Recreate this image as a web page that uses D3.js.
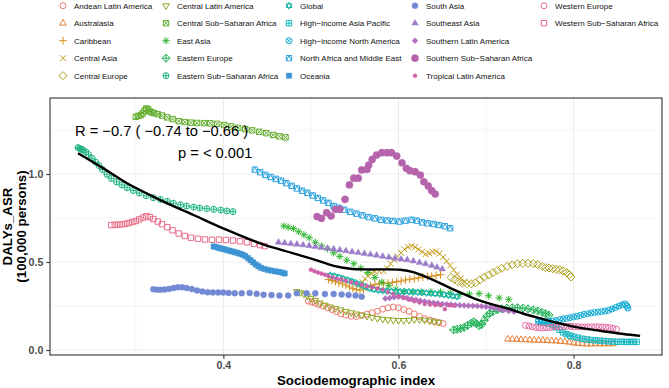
<!DOCTYPE html>
<html>
<head>
<meta charset="utf-8">
<script src="https://cdn.jsdelivr.net/npm/d3@7"></script>
<style>
body { margin: 0; background: #fff; }
svg { display: block; font-family: "Liberation Sans", Arial, sans-serif; }
</style>
</head>
<body>
<div id="chart"></div>
<script>
// [sdi, DALYs ASR] per region
const andeanLatinAmerica = [[0.497,0.278],[0.501,0.272],[0.505,0.266],[0.509,0.258],[0.514,0.250],[0.519,0.240],[0.524,0.230],[0.529,0.218],[0.534,0.206],[0.540,0.198],[0.546,0.192],[0.552,0.190],[0.558,0.196],[0.564,0.204],[0.570,0.212],[0.576,0.220],[0.582,0.232],[0.588,0.240],[0.594,0.244],[0.600,0.240],[0.606,0.230],[0.612,0.220],[0.618,0.205],[0.624,0.190],[0.630,0.178],[0.636,0.170],[0.641,0.163],[0.646,0.156],[0.651,0.150]];
const australasia = [[0.725,0.062],[0.730,0.061],[0.735,0.060],[0.740,0.059],[0.745,0.058],[0.750,0.057],[0.755,0.056],[0.760,0.055],[0.765,0.054],[0.770,0.053],[0.775,0.052],[0.780,0.051],[0.785,0.049],[0.790,0.047],[0.795,0.044],[0.800,0.040],[0.805,0.037],[0.810,0.035],[0.815,0.034],[0.820,0.034],[0.825,0.035],[0.830,0.035],[0.835,0.035],[0.840,0.035],[0.845,0.035]];
const caribbean = [[0.520,0.400],[0.524,0.395],[0.528,0.388],[0.532,0.382],[0.536,0.376],[0.540,0.368],[0.544,0.358],[0.548,0.350],[0.552,0.343],[0.556,0.340],[0.560,0.346],[0.564,0.356],[0.568,0.365],[0.573,0.372],[0.578,0.376],[0.583,0.378],[0.588,0.380],[0.593,0.384],[0.598,0.388],[0.603,0.392],[0.608,0.398],[0.613,0.402],[0.618,0.405],[0.623,0.410],[0.628,0.414],[0.633,0.417],[0.638,0.420],[0.643,0.424],[0.648,0.428]];
const centralAsia = [[0.556,0.372],[0.559,0.385],[0.562,0.405],[0.565,0.420],[0.569,0.435],[0.573,0.445],[0.578,0.447],[0.583,0.448],[0.587,0.465],[0.591,0.490],[0.595,0.512],[0.599,0.532],[0.603,0.552],[0.607,0.572],[0.611,0.585],[0.615,0.590],[0.619,0.585],[0.623,0.572],[0.627,0.558],[0.631,0.545],[0.635,0.550],[0.639,0.558],[0.643,0.560],[0.647,0.548],[0.651,0.528],[0.655,0.505],[0.659,0.480],[0.663,0.455],[0.667,0.430],[0.671,0.408],[0.675,0.388]];
const centralEurope = [[0.660,0.412],[0.664,0.400],[0.668,0.388],[0.673,0.380],[0.678,0.377],[0.683,0.376],[0.688,0.382],[0.693,0.398],[0.698,0.414],[0.703,0.426],[0.708,0.440],[0.713,0.452],[0.718,0.464],[0.724,0.475],[0.730,0.484],[0.736,0.490],[0.742,0.492],[0.748,0.493],[0.754,0.491],[0.759,0.485],[0.764,0.475],[0.768,0.468],[0.772,0.466],[0.776,0.462],[0.780,0.458],[0.784,0.455],[0.788,0.450],[0.792,0.440],[0.795,0.428],[0.797,0.415]];
const centralLatinAmerica = [[0.484,0.332],[0.488,0.326],[0.492,0.318],[0.496,0.306],[0.500,0.294],[0.505,0.282],[0.510,0.268],[0.516,0.255],[0.522,0.245],[0.528,0.236],[0.534,0.228],[0.540,0.220],[0.546,0.212],[0.552,0.205],[0.558,0.198],[0.564,0.192],[0.570,0.186],[0.576,0.180],[0.582,0.175],[0.588,0.172],[0.594,0.170],[0.600,0.168],[0.606,0.168],[0.612,0.170],[0.618,0.173],[0.624,0.172],[0.630,0.170],[0.636,0.165],[0.641,0.160],[0.646,0.158]];
const centralSubSaharanAfrica = [[0.300,1.325],[0.303,1.330],[0.306,1.335],[0.308,1.345],[0.310,1.360],[0.312,1.372],[0.314,1.368],[0.316,1.355],[0.318,1.350],[0.321,1.345],[0.325,1.340],[0.330,1.332],[0.336,1.322],[0.342,1.312],[0.349,1.300],[0.356,1.295],[0.363,1.292],[0.370,1.290],[0.378,1.289],[0.385,1.288],[0.393,1.285],[0.401,1.278],[0.409,1.270],[0.417,1.262],[0.425,1.255],[0.433,1.248],[0.441,1.240],[0.449,1.232],[0.457,1.222],[0.464,1.214],[0.471,1.208]];
const eastAsia = [[0.469,0.705],[0.474,0.698],[0.480,0.690],[0.486,0.672],[0.492,0.655],[0.498,0.638],[0.505,0.612],[0.512,0.592],[0.519,0.575],[0.526,0.552],[0.533,0.532],[0.541,0.510],[0.549,0.490],[0.557,0.465],[0.565,0.440],[0.573,0.412],[0.581,0.385],[0.589,0.365],[0.597,0.345],[0.606,0.333],[0.616,0.330],[0.626,0.330],[0.637,0.331],[0.648,0.330],[0.659,0.323],[0.670,0.316],[0.681,0.318],[0.692,0.320],[0.703,0.308],[0.715,0.296],[0.726,0.288]];
const easternEurope = [[0.663,0.114],[0.667,0.118],[0.671,0.122],[0.675,0.128],[0.679,0.140],[0.683,0.152],[0.686,0.160],[0.689,0.150],[0.692,0.138],[0.695,0.145],[0.698,0.168],[0.701,0.192],[0.704,0.208],[0.708,0.218],[0.713,0.228],[0.718,0.234],[0.724,0.238],[0.730,0.240],[0.736,0.240],[0.742,0.238],[0.748,0.234],[0.754,0.228],[0.759,0.222],[0.764,0.214],[0.768,0.206],[0.772,0.198]];
const easternSubSaharanAfrica = [[0.234,1.150],[0.236,1.145],[0.238,1.140],[0.240,1.135],[0.243,1.125],[0.246,1.110],[0.250,1.090],[0.254,1.068],[0.258,1.048],[0.262,1.025],[0.267,0.998],[0.272,0.975],[0.278,0.955],[0.284,0.938],[0.290,0.922],[0.297,0.906],[0.304,0.892],[0.312,0.876],[0.320,0.865],[0.328,0.856],[0.336,0.845],[0.343,0.834],[0.351,0.825],[0.358,0.818],[0.366,0.812],[0.373,0.807],[0.381,0.803],[0.389,0.799],[0.397,0.795],[0.404,0.790],[0.411,0.786]];
const global = [[0.522,0.425],[0.527,0.420],[0.532,0.413],[0.537,0.405],[0.542,0.398],[0.547,0.390],[0.552,0.380],[0.557,0.370],[0.562,0.360],[0.567,0.350],[0.572,0.344],[0.577,0.340],[0.582,0.337],[0.587,0.335],[0.592,0.333],[0.597,0.332],[0.602,0.331],[0.607,0.331],[0.612,0.331],[0.617,0.330],[0.622,0.328],[0.627,0.326],[0.632,0.324],[0.637,0.322],[0.642,0.320],[0.647,0.318],[0.652,0.315],[0.657,0.311],[0.662,0.307],[0.667,0.303]];
const highIncomeAsiaPacific = [[0.760,0.160],[0.764,0.158],[0.768,0.155],[0.772,0.150],[0.776,0.142],[0.780,0.130],[0.784,0.115],[0.788,0.100],[0.792,0.090],[0.796,0.082],[0.800,0.076],[0.805,0.070],[0.810,0.064],[0.815,0.060],[0.820,0.057],[0.825,0.055],[0.830,0.053],[0.835,0.051],[0.840,0.049],[0.845,0.048],[0.850,0.047],[0.855,0.047],[0.860,0.046],[0.864,0.046],[0.868,0.046],[0.872,0.046]];
const highIncomeNorthAmerica = [[0.760,0.168],[0.764,0.165],[0.768,0.163],[0.772,0.163],[0.776,0.165],[0.780,0.168],[0.784,0.172],[0.788,0.176],[0.792,0.180],[0.796,0.184],[0.800,0.188],[0.804,0.192],[0.808,0.197],[0.812,0.202],[0.816,0.206],[0.820,0.210],[0.824,0.213],[0.828,0.216],[0.832,0.218],[0.836,0.221],[0.840,0.226],[0.844,0.233],[0.848,0.242],[0.852,0.250],[0.856,0.258],[0.859,0.262],[0.861,0.250],[0.862,0.238]];
const northAfricaMiddleEast = [[0.436,1.025],[0.442,1.010],[0.448,0.995],[0.454,0.983],[0.460,0.972],[0.466,0.962],[0.472,0.948],[0.478,0.933],[0.484,0.918],[0.490,0.905],[0.496,0.893],[0.502,0.878],[0.508,0.864],[0.514,0.850],[0.520,0.836],[0.526,0.818],[0.532,0.808],[0.538,0.797],[0.545,0.785],[0.552,0.775],[0.559,0.765],[0.566,0.755],[0.573,0.748],[0.580,0.740],[0.587,0.736],[0.594,0.733],[0.601,0.730],[0.608,0.735],[0.615,0.740],[0.621,0.735],[0.627,0.725],[0.633,0.720],[0.640,0.716],[0.646,0.710],[0.653,0.703],[0.659,0.692]];
const oceania = [[0.389,0.588],[0.392,0.585],[0.395,0.580],[0.398,0.576],[0.401,0.572],[0.404,0.568],[0.407,0.564],[0.410,0.560],[0.413,0.556],[0.416,0.552],[0.419,0.547],[0.422,0.542],[0.425,0.534],[0.428,0.523],[0.431,0.510],[0.434,0.498],[0.437,0.486],[0.440,0.476],[0.443,0.467],[0.447,0.460],[0.451,0.455],[0.455,0.451],[0.459,0.447],[0.463,0.444],[0.467,0.440],[0.470,0.435]];
const southAsia = [[0.320,0.345],[0.324,0.343],[0.328,0.342],[0.333,0.344],[0.338,0.347],[0.343,0.352],[0.348,0.357],[0.353,0.356],[0.358,0.352],[0.364,0.346],[0.370,0.338],[0.376,0.332],[0.382,0.328],[0.388,0.327],[0.394,0.327],[0.400,0.326],[0.406,0.324],[0.413,0.323],[0.421,0.322],[0.430,0.324],[0.438,0.319],[0.446,0.314],[0.455,0.312],[0.464,0.309],[0.474,0.309],[0.484,0.322],[0.495,0.322],[0.505,0.322],[0.516,0.318],[0.526,0.318],[0.535,0.316],[0.543,0.313],[0.551,0.309],[0.558,0.303]];
const southeastAsia = [[0.463,0.612],[0.470,0.608],[0.477,0.604],[0.484,0.601],[0.491,0.597],[0.498,0.592],[0.505,0.587],[0.512,0.582],[0.519,0.578],[0.526,0.573],[0.533,0.568],[0.540,0.563],[0.547,0.558],[0.554,0.553],[0.561,0.548],[0.568,0.543],[0.575,0.538],[0.582,0.532],[0.589,0.527],[0.596,0.521],[0.603,0.516],[0.610,0.512],[0.617,0.505],[0.624,0.497],[0.631,0.489],[0.638,0.480],[0.644,0.470],[0.650,0.460]];
const southernLatinAmerica = [[0.585,0.292],[0.590,0.296],[0.595,0.300],[0.600,0.302],[0.605,0.300],[0.610,0.296],[0.615,0.290],[0.620,0.285],[0.625,0.280],[0.630,0.276],[0.635,0.272],[0.640,0.268],[0.645,0.265],[0.650,0.262],[0.655,0.260],[0.660,0.258],[0.665,0.256],[0.670,0.254],[0.675,0.253],[0.680,0.252],[0.685,0.251],[0.690,0.250],[0.695,0.248],[0.700,0.246],[0.705,0.243],[0.710,0.238],[0.715,0.232],[0.720,0.226],[0.726,0.221],[0.732,0.218]];
const southernSubSaharanAfrica = [[0.507,0.758],[0.512,0.748],[0.518,0.780],[0.523,0.761],[0.528,0.799],[0.533,0.799],[0.539,0.856],[0.544,0.938],[0.549,0.976],[0.554,0.976],[0.558,1.023],[0.564,1.026],[0.566,1.051],[0.570,1.083],[0.575,1.108],[0.581,1.121],[0.587,1.121],[0.592,1.121],[0.598,1.102],[0.604,1.064],[0.609,1.032],[0.613,1.019],[0.619,1.013],[0.625,0.994],[0.629,0.956],[0.634,0.932],[0.638,0.905],[0.642,0.886]];
const tropicalLatinAmerica = [[0.500,0.456],[0.504,0.448],[0.508,0.440],[0.512,0.434],[0.516,0.428],[0.520,0.420],[0.525,0.412],[0.530,0.405],[0.535,0.400],[0.540,0.394],[0.546,0.386],[0.552,0.378],[0.558,0.370],[0.564,0.362],[0.570,0.356],[0.576,0.350],[0.582,0.342],[0.588,0.330],[0.594,0.318],[0.600,0.306],[0.606,0.296],[0.612,0.286],[0.618,0.277],[0.624,0.270],[0.630,0.262],[0.636,0.258],[0.642,0.255],[0.648,0.254],[0.653,0.232],[0.658,0.254],[0.663,0.253]];
const westernEurope = [[0.745,0.140],[0.749,0.136],[0.753,0.132],[0.757,0.128],[0.761,0.126],[0.765,0.125],[0.769,0.126],[0.773,0.128],[0.777,0.130],[0.781,0.132],[0.785,0.134],[0.789,0.135],[0.793,0.135],[0.797,0.134],[0.801,0.133],[0.805,0.132],[0.809,0.131],[0.813,0.131],[0.817,0.131],[0.821,0.132],[0.825,0.132],[0.829,0.132],[0.833,0.131],[0.837,0.130],[0.841,0.128],[0.845,0.124],[0.849,0.118]];
const westernSubSaharanAfrica = [[0.272,0.710],[0.276,0.711],[0.280,0.712],[0.284,0.714],[0.288,0.717],[0.292,0.721],[0.296,0.727],[0.300,0.733],[0.304,0.742],[0.308,0.752],[0.312,0.760],[0.316,0.755],[0.320,0.744],[0.325,0.730],[0.330,0.715],[0.336,0.698],[0.342,0.680],[0.349,0.662],[0.356,0.648],[0.363,0.638],[0.371,0.632],[0.379,0.628],[0.387,0.626],[0.395,0.627],[0.403,0.625],[0.411,0.622],[0.419,0.618],[0.427,0.612],[0.435,0.604],[0.442,0.596],[0.447,0.590]];

// loess fit (black line)
const smoothFit = [[0.234,1.118],[0.263,1.032],[0.290,0.947],[0.328,0.852],[0.366,0.767],[0.404,0.682],[0.442,0.606],[0.480,0.549],[0.503,0.515],[0.526,0.478],[0.545,0.462],[0.564,0.458],[0.583,0.458],[0.602,0.456],[0.617,0.443],[0.630,0.418],[0.648,0.379],[0.667,0.334],[0.686,0.294],[0.705,0.262],[0.724,0.237],[0.743,0.206],[0.762,0.180],[0.781,0.155],[0.800,0.133],[0.819,0.117],[0.838,0.104],[0.857,0.091],[0.876,0.080]];

const regionNames = ["Andean Latin America","Australasia","Caribbean","Central Asia","Central Europe",
  "Central Latin America","Central Sub−Saharan Africa","East Asia","Eastern Europe","Eastern Sub−Saharan Africa",
  "Global","High−income Asia Pacific","High−income North America","North Africa and Middle East","Oceania",
  "South Asia","Southeast Asia","Southern Latin America","Southern Sub−Saharan Africa","Tropical Latin America",
  "Western Europe","Western Sub−Saharan Africa"];
const regionPoints = [andeanLatinAmerica, australasia, caribbean, centralAsia, centralEurope,
  centralLatinAmerica, centralSubSaharanAfrica, eastAsia, easternEurope, easternSubSaharanAfrica,
  global, highIncomeAsiaPacific, highIncomeNorthAmerica, northAfricaMiddleEast, oceania,
  southAsia, southeastAsia, southernLatinAmerica, southernSubSaharanAfrica, tropicalLatinAmerica,
  westernEurope, westernSubSaharanAfrica];
// hue palette as it appears in the figure (slightly muted)
const regionColors = ["#f0766d","#e8823a","#d88f1c","#c59a18","#aca21f",
  "#8ea921","#65ae30","#2db52f","#27b45b","#20b486",
  "#1bb6a6","#18b6bf","#1aadd6","#2ca2df","#3d94d4",
  "#7389d3","#9b7cc9","#b071bf","#b564ab","#cf62a6",
  "#e4699f","#e96a86"];

const xTickValues = [0.4, 0.6, 0.8];
const xMinorValues = [0.3, 0.5, 0.7, 0.9];
const yTickValues = [0, 0.5, 1.0];
const yMinorValues = [0.25, 0.75, 1.25];
const statLines = ["R = −0.7 ( −0.74 to −0.66 )", "p = < 0.001"];

// R pch glyphs as paths centred on 0,0
function shapePath(pch, r) {
    const circ = (a) => `M${-a},0a${a},${a} 0 1,0 ${2 * a},0a${a},${a} 0 1,0 ${-2 * a},0Z`;
    const sqr = (a) => `M${-a},${-a}H${a}V${a}H${-a}Z`;
    const plus = (a) => `M${-a},0H${a}M0,${-a}V${a}`;
    const cross = (a) => `M${-a},${-a}L${a},${a}M${-a},${a}L${a},${-a}`;
    const triUp = (a) => `M0,${-a * 1.15}L${a},${a * 0.58}L${-a},${a * 0.58}Z`;
    const triDn = (a) => `M0,${a * 1.15}L${a},${-a * 0.58}L${-a},${-a * 0.58}Z`;
    const diam = (a) => `M0,${-a}L${a},0L0,${a}L${-a},0Z`;
    const s = r * 0.9;
    switch (pch) {
        case 1: return { d: circ(r), filled: false };
        case 2: return { d: triUp(r * 1.1), filled: false };
        case 3: return { d: plus(r * 1.3), filled: false };
        case 4: return { d: cross(r), filled: false };
        case 5: return { d: diam(r * 1.35), filled: false };
        case 6: return { d: triDn(r * 1.1), filled: false };
        case 7: return { d: sqr(s) + cross(s), filled: false };
        case 8: return { d: plus(r * 1.2) + cross(r * 0.85), filled: false };
        case 9: return { d: diam(r * 1.35) + plus(r * 1.35), filled: false };
        case 10: return { d: circ(r) + plus(r), filled: false };
        case 11: return { d: triUp(r) + triDn(r), filled: false };
        case 12: return { d: sqr(s) + plus(s), filled: false };
        case 13: return { d: circ(r) + cross(r * 0.707), filled: false };
        case 14: return { d: sqr(s) + `M${-s},${s}L0,${-s}L${s},${s}`, filled: false };
        case 15: return { d: sqr(s), filled: true };
        case 16: return { d: circ(r), filled: true };
        case 17: return { d: triUp(r * 1.1), filled: true };
        case 18: return { d: diam(r), filled: true };
        case 19: return { d: circ(r * 1.2), filled: true };
        case 20: return { d: circ(r * 0.67), filled: true };
        case 21: return { d: circ(r), filled: false };
        default: return { d: sqr(s), filled: false };
    }
}

class SdiScatterChart {
    constructor(_config) {
        this.config = {
            parentElement: _config.parentElement,
            containerWidth: _config.containerWidth || 669,
            containerHeight: _config.containerHeight || 388,
            panel: { left: 50, right: 662, top: 98, bottom: 355 },
            pointRadius: 3,
        };
        this.initVis();
    }

    initVis() {
        let vis = this;
        vis.svg = d3.select(vis.config.parentElement)
            .append("svg")
            .attr("width", vis.config.containerWidth)
            .attr("height", vis.config.containerHeight);

        const p = vis.config.panel;
        vis.xScale = d3.scaleLinear().domain([0.202, 0.901]).range([p.left, p.right]);
        vis.yScale = d3.scaleLinear().domain([-0.0284, 1.4318]).range([p.bottom, p.top]);

        vis.series = regionNames.map((name, i) => ({
            name: name,
            pch: i + 1,
            color: regionColors[i],
            points: regionPoints[i],
        }));
        vis.renderVis();
    }

    renderVis() {
        let vis = this;
        const p = vis.config.panel;
        const r = vis.config.pointRadius;

        // grid
        const grid = vis.svg.append("g").attr("class", "grid").attr("stroke", "#ebebeb");
        grid.append("g").selectAll("line").data(xMinorValues).join("line")
            .attr("x1", d => vis.xScale(d)).attr("x2", d => vis.xScale(d))
            .attr("y1", p.top).attr("y2", p.bottom).attr("stroke-width", 0.55);
        grid.append("g").selectAll("line").data(yMinorValues).join("line")
            .attr("y1", d => vis.yScale(d)).attr("y2", d => vis.yScale(d))
            .attr("x1", p.left).attr("x2", p.right).attr("stroke-width", 0.55);
        grid.append("g").selectAll("line").data(xTickValues).join("line")
            .attr("x1", d => vis.xScale(d)).attr("x2", d => vis.xScale(d))
            .attr("y1", p.top).attr("y2", p.bottom).attr("stroke-width", 1.1);
        grid.append("g").selectAll("line").data(yTickValues).join("line")
            .attr("y1", d => vis.yScale(d)).attr("y2", d => vis.yScale(d))
            .attr("x1", p.left).attr("x2", p.right).attr("stroke-width", 1.1);

        // points
        const pts = vis.svg.append("g").attr("class", "points");
        vis.series.forEach(s => {
            const shape = shapePath(s.pch, r);
            pts.append("g").selectAll("path").data(s.points).join("path")
                .attr("transform", d => `translate(${vis.xScale(d[0])},${vis.yScale(d[1])})`)
                .attr("d", shape.d)
                .attr("fill", shape.filled ? s.color : "none")
                .attr("stroke", s.color)
                .attr("stroke-width", shape.filled ? 0.4 : 1);
        });

        // smooth
        vis.svg.append("path")
            .datum(smoothFit)
            .attr("fill", "none")
            .attr("stroke", "#000")
            .attr("stroke-width", 2.4)
            .attr("d", d3.line().x(d => vis.xScale(d[0])).y(d => vis.yScale(d[1])).curve(d3.curveCatmullRom));

        // stats text
        vis.svg.append("text").attr("x", 75).attr("y", 136)
            .attr("font-size", 14.7).attr("fill", "#000").text(statLines[0]);
        vis.svg.append("text").attr("x", 178).attr("y", 157.5)
            .attr("font-size", 14.7).attr("fill", "#000").text(statLines[1]);

        // border
        vis.svg.append("rect")
            .attr("x", p.left).attr("y", p.top)
            .attr("width", p.right - p.left).attr("height", p.bottom - p.top)
            .attr("fill", "none").attr("stroke", "#333").attr("stroke-width", 1.1);

        // axes
        const xAxis = vis.svg.append("g").attr("transform", `translate(0,${p.bottom})`)
            .call(d3.axisBottom(vis.xScale).tickValues(xTickValues).tickFormat(d3.format(".1f")).tickSize(3.7).tickPadding(3));
        const yAxis = vis.svg.append("g").attr("transform", `translate(${p.left},0)`)
            .call(d3.axisLeft(vis.yScale).tickValues(yTickValues).tickFormat(d3.format(".1f")).tickSize(3.7).tickPadding(3));
        [xAxis, yAxis].forEach(a => {
            a.select(".domain").remove();
            a.selectAll(".tick line").attr("stroke", "#333").attr("stroke-width", 1.1);
            a.selectAll(".tick text").attr("fill", "#4d4d4d").attr("font-size", 10.6)
                .attr("font-weight", "bold").attr("font-family", "'Liberation Sans', Arial, sans-serif");
        });

        vis.svg.append("text")
            .attr("x", (p.left + p.right) / 2).attr("y", 385)
            .attr("text-anchor", "middle").attr("font-size", 13.3).attr("font-weight", "bold")
            .text("Sociodemographic index");
        const yTitle = vis.svg.append("text")
            .attr("transform", `translate(12,${(p.top + p.bottom) / 2}) rotate(-90)`)
            .attr("text-anchor", "middle").attr("font-size", 13.3).attr("font-weight", "bold");
        yTitle.append("tspan").attr("x", 0).attr("dy", 0).text("DALYs_ASR");
        yTitle.append("tspan").attr("x", 0).attr("dy", 14).text("(100,000 persons)");

        // legend, 5 rows filled column-wise
        const colX = [63, 166, 289, 415, 544];
        const legend = vis.svg.append("g").attr("class", "legend");
        const items = legend.selectAll("g").data(vis.series).join("g")
            .attr("transform", (d, i) => `translate(${colX[Math.floor(i / 5)]},${5.7 + (i % 5) * 17.5})`);
        items.append("path")
            .attr("d", d => shapePath(d.pch, r).d)
            .attr("fill", d => shapePath(d.pch, r).filled ? d.color : "none")
            .attr("stroke", d => d.color)
            .attr("stroke-width", d => shapePath(d.pch, r).filled ? 0.4 : 1);
        items.append("text")
            .attr("x", 11).attr("y", 2.9)
            .attr("font-size", 8).attr("fill", "#111")
            .text(d => d.name);
    }
}

new SdiScatterChart({ parentElement: "#chart" });
</script>
</body>
</html>
